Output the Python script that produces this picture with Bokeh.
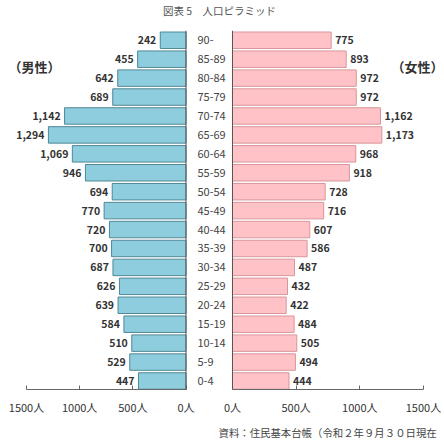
from bokeh.plotting import figure
from bokeh.models import Range1d, Label, Span, ColumnDataSource, FixedTicker
from bokeh.layouts import column, row
from bokeh.embed import file_html
from bokeh.resources import INLINE
from bokeh.core.properties import value

# ---- data (top row first) ----
ages = ["90-", "85-89", "80-84", "75-79", "70-74", "65-69", "60-64", "55-59",
        "50-54", "45-49", "40-44", "35-39", "30-34", "25-29", "20-24", "15-19",
        "10-14", "5-9", "0-4"]
male = [242, 455, 642, 689, 1142, 1294, 1069, 946, 694, 770, 720, 700, 687,
        626, 639, 584, 510, 529, 447]
female = [775, 893, 972, 972, 1162, 1173, 968, 918, 728, 716, 607, 586, 487,
          432, 422, 484, 505, 494, 444]
ticks = [0, 500, 1000, 1500]
tick_labels = ["0人", "500人", "1000人", "1500人"]
title_text = "図表 5　人口ピラミッド"
male_label = "（男性）"
female_label = "（女性）"
note_text = "資料：住民基本台帳（令和２年９月３０日現在"

FONT = "Noto Sans CJK JP"
n = len(ages)
ypos = [n - 1 - i for i in range(n)]

src = ColumnDataSource(dict(
    y=ypos, age=ages, male=male, female=female,
    mlab=[f"{v:,}" for v in male], flab=[f"{v:,}" for v in female],
))

common = dict(toolbar_location=None, output_backend="svg", min_border=0,
              outline_line_color=None)

# ---- title strip ----
top = figure(width=444, height=30, x_range=Range1d(0, 444), y_range=Range1d(0, 30),
             x_axis_type=None, y_axis_type=None, **common)
top.add_layout(Label(x=219, y=20, text=title_text, text_align="center",
                     text_baseline="middle", text_font=FONT,
                     text_font_size="10.5px", text_color="#555555"))

yr = dict(start=-0.449, end=18.515)

def style_axis(p):
    ax = p.xaxis[0]
    ax.ticker = FixedTicker(ticks=ticks)
    ax.bounds = (0, 1500)
    ax.major_label_overrides = {t: l for t, l in zip(ticks, tick_labels)}
    ax.major_tick_in = 4
    ax.major_tick_out = 0
    ax.minor_tick_line_color = None
    ax.axis_line_color = "#666666"
    ax.major_tick_line_color = "#666666"
    ax.major_label_text_font = FONT
    ax.major_label_text_font_size = "11px"
    ax.major_label_text_color = "#333333"
    ax.major_label_standoff = 9
    p.xgrid.visible = False

# ---- male (left) ----
left = figure(width=196, height=392, x_range=Range1d(1744.6, -98.7),
              y_range=Range1d(**yr), y_axis_type=None, min_border_bottom=33,
              toolbar_location=None, output_backend="svg",
              min_border_left=0, min_border_right=0, min_border_top=0,
              outline_line_color=None)
left.hbar(y="y", left=0, right="male", height=0.87, source=src,
          fill_color="#8ECDDD", line_color="#4F8796", line_width=1)
left.text(x="male", y="y", text="mlab", source=src, x_offset=-4,
          text_align="right", text_baseline="middle", text_font=value(FONT),
          text_font_size="10.5px", text_font_style="bold", text_color="#333333")
left.add_layout(Span(location=0, dimension="height", line_color="#555555", line_width=1))
left.add_layout(Label(x=1425, y=16.61, text=male_label, text_align="center",
                      text_baseline="middle", text_font=FONT, text_font_size="13px",
                      text_font_style="bold", text_color="#333333"))
style_axis(left)

# ---- female (right) ----
right = figure(width=248, height=392, x_range=Range1d(-282.7, 1665.0),
               y_range=Range1d(**yr), y_axis_type=None, min_border_bottom=33,
               toolbar_location=None, output_backend="svg",
               min_border_left=0, min_border_right=0, min_border_top=0,
               outline_line_color=None)
right.hbar(y="y", left=0, right="female", height=0.87, source=src,
           fill_color="#FFC2C6", line_color="#D9959B", line_width=1)
right.text(x="female", y="y", text="flab", source=src, x_offset=4,
           text_align="left", text_baseline="middle", text_font=value(FONT),
           text_font_size="10.5px", text_font_style="bold", text_color="#333333")
right.text(x=-275, y="y", text="age", source=src, text_align="left",
           text_baseline="middle", text_font=value(FONT), text_font_size="11px",
           text_color="#444444")
right.add_layout(Span(location=0, dimension="height", line_color="#555555", line_width=1))
right.add_layout(Label(x=1453, y=16.61, text=female_label, text_align="center",
                       text_baseline="middle", text_font=FONT, text_font_size="13px",
                       text_font_style="bold", text_color="#333333"))
style_axis(right)

# ---- note strip ----
bottom = figure(width=444, height=23, x_range=Range1d(0, 444), y_range=Range1d(0, 23),
                x_axis_type=None, y_axis_type=None, **common)
bottom.add_layout(Label(x=218, y=13, text=note_text, text_align="left",
                        text_baseline="middle", text_font=FONT,
                        text_font_size="10.4px", text_color="#444444"))

layout = column(top, row(left, right), bottom)
open("out.html", "w").write(file_html(layout, INLINE))
